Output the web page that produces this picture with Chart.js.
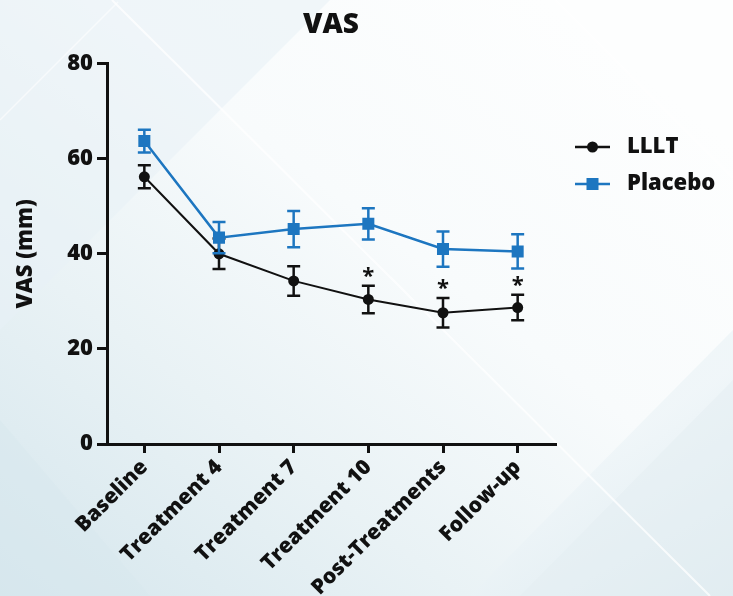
<!DOCTYPE html>
<html>
<head>
<meta charset="utf-8">
<title>VAS</title>
<script src="https://cdn.jsdelivr.net/npm/chart.js@4/dist/chart.umd.min.js"></script>
<style>
  html, body { margin: 0; padding: 0; }
  #wrap { position: relative; width: 733px; height: 596px; overflow: hidden; }
  #bg { position: absolute; left: 0; top: 0; }
  #c { position: absolute; left: 0; top: 0; }
</style>
</head>
<body>
<div id="wrap">
  <svg id="bg" width="733" height="596" xmlns="http://www.w3.org/2000/svg">
    <defs>
      <linearGradient id="base" x1="0" y1="1" x2="0.85" y2="0.1">
        <stop offset="0" stop-color="#d5e6ed"/>
        <stop offset="0.35" stop-color="#e9f2f5"/>
        <stop offset="0.65" stop-color="#f8fbfc"/>
        <stop offset="1" stop-color="#fdfefe"/>
      </linearGradient>
      <linearGradient id="corner" x1="1" y1="1" x2="0.6" y2="0.4">
        <stop offset="0" stop-color="#dbe9ef"/>
        <stop offset="1" stop-color="#eef5f8"/>
      </linearGradient>
    </defs>
    <rect width="733" height="596" fill="url(#base)"/>
    <polygon points="0,0 330,0 0,330" fill="#e8f1f5" opacity="0.55"/>
    <polygon points="733,330 733,596 470,596" fill="url(#corner)" opacity="0.85"/>
    <polygon points="520,596 733,380 733,596" fill="#e3eef2" opacity="0.5"/>
    <polygon points="0,420 150,596 0,596" fill="#d7e7ee" opacity="0.5"/>
    <line x1="112" y1="0" x2="710" y2="596" stroke="#ffffff" stroke-width="2" opacity="0.75"/>
    <line x1="555" y1="0" x2="733" y2="178" stroke="#ffffff" stroke-width="1.5" opacity="0.7"/>
    <line x1="118" y1="2" x2="0" y2="120" stroke="#ffffff" stroke-width="1.5" opacity="0.6"/>
  </svg>
  <canvas id="c" width="733" height="596"></canvas>
</div>
<script>
// Time points on the x axis
const categories = ['Baseline', 'Treatment 4', 'Treatment 7', 'Treatment 10', 'Post-Treatments', 'Follow-up'];

// Mean VAS (mm) and error (SEM) per time point
const llltMean    = [56.2, 40.0, 34.3, 30.4, 27.6, 28.7];
const llltErr     = [2.4, 3.2, 3.1, 2.9, 3.1, 2.7];
const placeboMean = [63.7, 43.4, 45.2, 46.3, 41.0, 40.5];
const placeboErr  = [2.4, 3.3, 3.8, 3.3, 3.7, 3.6];

// Significance marks between groups at each time point
const significance = ['', '', '', '*', '*', '*'];

// Y axis ticks
const yTicks = [0, 20, 40, 60, 80];

const INK = '#111111';
const BLUE = '#1d76c0';
const FONT = '"Open Sans", Lato, sans-serif';
const W = 800;

// Vertical error bars with caps, drawn just before each dataset
const errorBars = {
  id: 'errorBars',
  beforeDatasetDraw(chart, args) {
    const ds = chart.data.datasets[args.index];
    if (!ds.errors) return;
    const y = chart.scales.y;
    const ctx = chart.ctx;
    const cap = 6.5;
    ctx.save();
    ctx.strokeStyle = ds.borderColor;
    ctx.lineWidth = 2.5;
    args.meta.data.forEach((pt, i) => {
      const v = ds.data[i], e = ds.errors[i];
      const yTop = y.getPixelForValue(v + e);
      const yBot = y.getPixelForValue(v - e);
      ctx.beginPath();
      ctx.moveTo(pt.x, yTop); ctx.lineTo(pt.x, yBot);
      ctx.moveTo(pt.x - cap, yTop); ctx.lineTo(pt.x + cap, yTop);
      ctx.moveTo(pt.x - cap, yBot); ctx.lineTo(pt.x + cap, yBot);
      ctx.stroke();
    });
    ctx.restore();
  }
};

// Asterisks above the LLLT error bars
const sigMarks = {
  id: 'sigMarks',
  afterDatasetsDraw(chart) {
    const x = chart.scales.x, y = chart.scales.y;
    const ctx = chart.ctx;
    ctx.save();
    ctx.fillStyle = INK;
    ctx.font = '700 22px ' + FONT;
    ctx.textAlign = 'center';
    ctx.textBaseline = 'alphabetic';
    significance.forEach((s, i) => {
      if (!s) return;
      const px = x.getPixelForValue(i);
      const py = y.getPixelForValue(llltMean[i] + llltErr[i]);
      ctx.fillText(s, px, py - 3);
    });
    ctx.restore();
  }
};

// Legend: line with marker, then label
const sideLegend = {
  id: 'sideLegend',
  afterDraw(chart) {
    const ctx = chart.ctx;
    const x0 = chart.chartArea.right + 20;
    const rows = [
      { label: 'LLLT', color: INK, shape: 'circle', y: 147 },
      { label: 'Placebo', color: BLUE, shape: 'rect', y: 184 }
    ];
    ctx.save();
    rows.forEach(r => {
      ctx.strokeStyle = r.color;
      ctx.fillStyle = r.color;
      ctx.lineWidth = 2.5;
      ctx.beginPath();
      ctx.moveTo(x0, r.y); ctx.lineTo(x0 + 35, r.y);
      ctx.stroke();
      const cx = x0 + 17.5;
      if (r.shape === 'circle') {
        ctx.beginPath(); ctx.arc(cx, r.y, 5.5, 0, Math.PI * 2); ctx.fill();
      } else {
        ctx.fillRect(cx - 6, r.y - 6, 12, 12);
      }
      ctx.fillStyle = INK;
      ctx.font = W + ' 22px ' + FONT;
      ctx.textAlign = 'left';
      ctx.textBaseline = 'middle';
      ctx.fillText(r.label, x0 + 52, r.y);
    });
    ctx.restore();
  }
};

new Chart(document.getElementById('c'), {
  type: 'line',
  data: {
    labels: categories,
    datasets: [
      {
        label: 'LLLT',
        data: llltMean,
        errors: llltErr,
        borderColor: INK,
        backgroundColor: INK,
        borderWidth: 2,
        pointStyle: 'circle',
        pointRadius: 5.5,
        pointBorderWidth: 0,
        tension: 0,
        order: 2
      },
      {
        label: 'Placebo',
        data: placeboMean,
        errors: placeboErr,
        borderColor: BLUE,
        backgroundColor: BLUE,
        borderWidth: 2.5,
        pointStyle: 'rect',
        pointRadius: 8.5,
        pointBorderWidth: 0,
        tension: 0,
        order: 1
      }
    ]
  },
  options: {
    responsive: false,
    animation: false,
    devicePixelRatio: 1,
    layout: { padding: { top: 0, right: 178, left: 0, bottom: 0 } },
    plugins: {
      legend: { display: false },
      tooltip: { enabled: false },
      title: {
        display: true,
        text: 'VAS',
        fullSize: false,
        color: INK,
        font: { family: FONT, size: 28, weight: W },
        padding: { top: 8, bottom: 22 }
      }
    },
    scales: {
      x: {
        type: 'category',
        offset: true,
        grid: { display: true, drawOnChartArea: false, drawTicks: true, tickLength: 9, color: INK, lineWidth: 3 },
        border: { display: true, color: INK, width: 3 },
        ticks: {
          color: INK,
          font: { family: FONT, size: 21, weight: W },
          maxRotation: 45, minRotation: 45,
          padding: 2
        },
        afterFit(scale) { scale.height = 152; }
      },
      y: {
        min: 0, max: 80,
        afterBuildTicks(scale) { scale.ticks = yTicks.map(v => ({ value: v })); },
        grid: { display: true, drawOnChartArea: false, drawTicks: true, tickLength: 10, color: INK, lineWidth: 3 },
        border: { display: true, color: INK, width: 3 },
        ticks: {
          color: INK,
          font: { family: FONT, size: 22, weight: W },
          padding: 4
        },
        title: {
          display: true,
          text: 'VAS (mm)',
          color: INK,
          font: { family: FONT, size: 22, weight: W },
          padding: { top: 13, bottom: 0 }
        },
        afterFit(scale) { scale.width = 107; }
      }
    }
  },
  plugins: [errorBars, sigMarks, sideLegend]
});
</script>
</body>
</html>
